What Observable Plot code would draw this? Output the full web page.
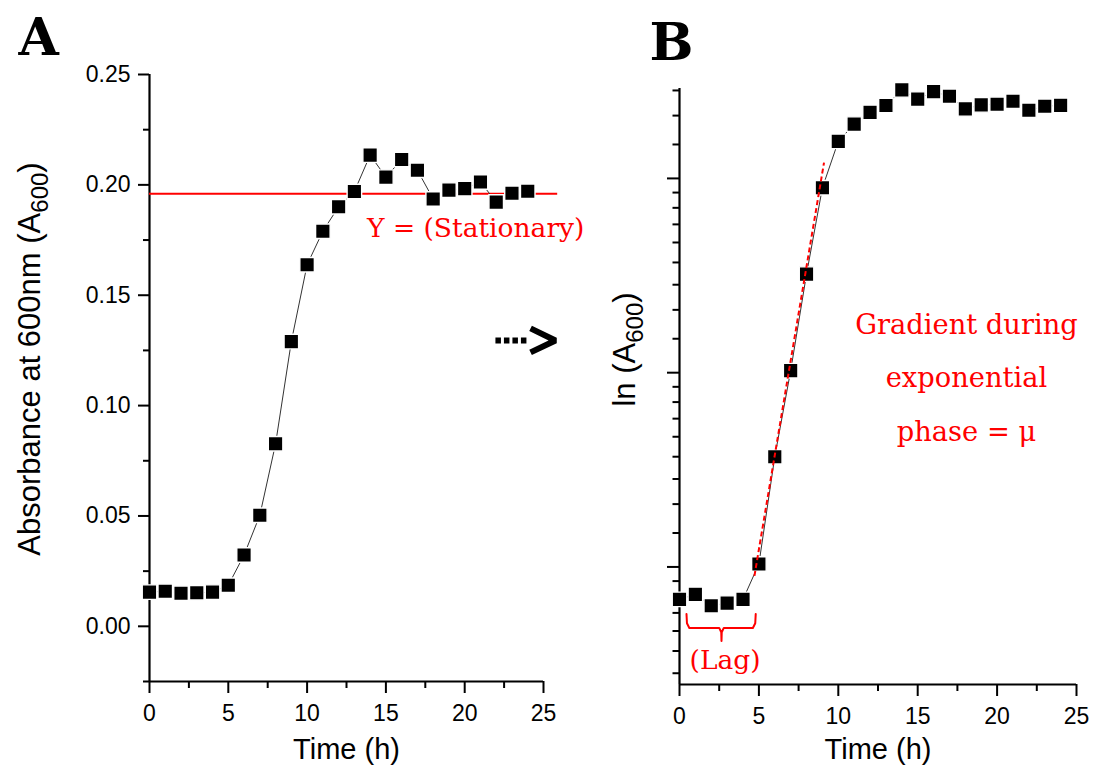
<!DOCTYPE html>
<html><head><meta charset="utf-8">
<script src="https://cdn.jsdelivr.net/npm/d3@7"></script>
<script src="https://cdn.jsdelivr.net/npm/@observablehq/plot@0.6"></script>
<style>
body{margin:0;background:#fff;}
#wrap{position:relative;width:1097px;height:776px;overflow:hidden;background:#fff;}
#wrap svg{position:absolute;top:0;overflow:visible;}
</style></head><body><div id="wrap"></div>
<script>
// ---- data ----
const hours = [0,1,2,3,4,5,6,7,8,9,10,11,12,13,14,15,16,17,18,19,20,21,22,23,24];
const absorbance = [0.0155,0.0159,0.0150,0.0152,0.0155,0.0186,0.0323,0.0503,0.0827,0.1290,0.1638,0.1790,0.1901,0.1970,0.2135,0.2035,0.2115,0.2066,0.1936,0.1976,0.1983,0.2013,0.1922,0.1962,0.1971];
const stationaryLevel = 0.196;
// ---- axes ----
const xTicks = [0,5,10,15,20,25];
const xMinorTicks = [2.5,7.5,12.5,17.5,22.5];
const yTicksA = [0,0.05,0.10,0.15,0.20,0.25];
const yMinorTicksA = [-0.025,0.025,0.075,0.125,0.175,0.225];
const yDomainA = [-0.025,0.25];
const lnMajorTicksB = [-5,-4,-3,-2,-1];
const minorPerCycle = 9;
const yDomainB = [0.01,0.215];
// ---- annotations ----
const fitLine = [{t:4.72, lnA:-4.046},{t:9.1, lnA:-1.919}];
const lagBrace = [{t:0.44,lnA:-4.242},{t:0.47,lnA:-4.290},{t:0.62,lnA:-4.314},{t:2.50,lnA:-4.314},{t:2.63,lnA:-4.336},{t:2.645,lnA:-4.381},{t:2.66,lnA:-4.336},{t:2.79,lnA:-4.314},{t:4.62,lnA:-4.314},{t:4.77,lnA:-4.290},{t:4.80,lnA:-4.242}];
const arrowShaft = [{t:21.95,a:0.1295},{t:24.05,a:0.1295}];
const arrowHead = [{t:24.18,a:0.1350},{t:25.76,a:0.1295},{t:24.18,a:0.1241}];
const stationaryLabel = {t:13.8, a:0.1800, text:"Y = (Stationary)"};
const gradientLabel = {t:18.07, lnA:-2.987, text:"Gradient during\nexponential\nphase = μ"};
const lagLabel = {t:2.87, lnA:-4.481, text:"(Lag)"};

const rows = hours.map((t,i)=>({t, a:absorbance[i], lnA:Math.log(absorbance[i])}));
const lnMinorB = [];
for (const n of lnMajorTicksB) for (let k=1;k<minorPerCycle;k++) lnMinorB.push(Math.log(Math.exp(n)+k*(Math.exp(n+1)-Math.exp(n))/minorPerCycle));
const lnDomB = yDomainB.map(Math.log);
const inB = v => v>=lnDomB[0]-1e-9 && v<=lnDomB[1]+1e-9;

const SANS = "Liberation Sans, Arial, sans-serif";
const SERIF = "DejaVu Serif, serif";
const RED = "#ff0000";
const tickFont = 23;
const titleFont = 31;

function xAxes(){
  return [
    Plot.axisX({ticks:xTicks, tickSize:12, tickPadding:11, strokeWidth:2, fontSize:tickFont, label:null, tickFormat:d=>String(d)}),
    Plot.axisX({ticks:xMinorTicks, tickSize:7, strokeWidth:2, tickFormat:()=>"", label:null})
  ];
}

const plotA = Plot.plot({
  width:600, height:776,
  marginLeft:149, marginRight:57, marginTop:74, marginBottom:95,
  x:{domain:[0,25]},
  y:{domain:yDomainA},
  style:{fontFamily:SANS, color:"#000", background:"transparent", overflow:"visible"},
  marks:[
    Plot.ruleX([0],{stroke:"#000", strokeWidth:2.2}),
    Plot.ruleY([yDomainA[0]],{stroke:"#000", strokeWidth:2.2}),
    Plot.axisY({ticks:yTicksA, tickSize:11, tickPadding:8, strokeWidth:2, fontSize:tickFont, label:null, tickFormat:d3.format(".2f")}),
    Plot.axisY({ticks:yMinorTicksA, tickSize:6, strokeWidth:2, tickFormat:()=>"", label:null}),
    ...xAxes(),
    Plot.ruleY([stationaryLevel],{x1:0, x2:25.9, stroke:RED, strokeWidth:2}),
    Plot.line(rows,{x:"t", y:"a", stroke:"#333", strokeWidth:1}),
    Plot.dot(rows,{x:"t", y:"a", symbol:"square", r:8.2, fill:"#000", stroke:"#fff", strokeWidth:1.4}),
    Plot.text([stationaryLabel],{x:"t", y:"a", text:"text", textAnchor:"start", fill:RED, fontFamily:SERIF, fontSize:26.5}),
    Plot.line(arrowShaft,{x:"t", y:"a", stroke:"#000", strokeWidth:6, strokeDasharray:"5.5,3", strokeLinecap:"butt"}),
    Plot.line(arrowHead,{x:"t", y:"a", stroke:"#000", strokeWidth:6, strokeLinejoin:"miter", strokeLinecap:"butt"}),
    Plot.text(["Absorbance at 600nm (A600)"],{frameAnchor:"left", rotate:-90, dx:-119, dy:-19, fontSize:titleFont, textAnchor:"middle"}),
    Plot.text(["Time (h)"],{frameAnchor:"bottom", dy:77, fontSize:29}),
    Plot.text(["A"],{frameAnchor:"top-left", dx:-131, dy:-56, fontSize:52, fontWeight:"bold", fontFamily:SERIF, textAnchor:"start", lineAnchor:"top"})
  ]
});

const plotB = Plot.plot({
  width:537, height:776,
  marginLeft:119, marginRight:21, marginTop:88, marginBottom:92,
  x:{domain:[0,25]},
  y:{domain:lnDomB},
  style:{fontFamily:SANS, color:"#000", background:"transparent", overflow:"visible"},
  marks:[
    Plot.ruleX([0],{stroke:"#000", strokeWidth:2.2}),
    Plot.ruleY([lnDomB[0]],{stroke:"#000", strokeWidth:2.2}),
    Plot.axisY({ticks:lnMajorTicksB.filter(inB), tickSize:12, strokeWidth:2, tickFormat:()=>"", label:null}),
    Plot.axisY({ticks:lnMinorB.filter(inB), tickSize:6.5, strokeWidth:2, tickFormat:()=>"", label:null}),
    ...xAxes(),
    Plot.line(rows,{x:"t", y:"lnA", stroke:"#333", strokeWidth:1}),
    Plot.dot(rows,{x:"t", y:"lnA", symbol:"square", r:8.2, fill:"#000", stroke:"#fff", strokeWidth:1.4}),
    Plot.line(fitLine,{x:"t", y:"lnA", stroke:RED, strokeWidth:2, strokeDasharray:"5,3", strokeLinecap:"butt"}),
    Plot.line(lagBrace,{x:"t", y:"lnA", stroke:RED, strokeWidth:2, strokeLinejoin:"round"}),
    Plot.text([gradientLabel],{x:"t", y:"lnA", text:"text", fill:RED, fontFamily:SERIF, fontSize:27.3, lineHeight:1.97}),
    Plot.text([lagLabel],{x:"t", y:"lnA", text:"text", fill:RED, fontFamily:SERIF, fontSize:26.5}),
    Plot.text(["ln (A600)"],{frameAnchor:"left", rotate:-90, dx:-54, dy:-37, fontSize:titleFont, textAnchor:"middle"}),
    Plot.text(["Time (h)"],{frameAnchor:"bottom", dy:74, fontSize:29}),
    Plot.text(["B"],{frameAnchor:"top-left", dx:-30, dy:-65, fontSize:52, fontWeight:"bold", fontFamily:SERIF, textAnchor:"start", lineAnchor:"top"})
  ]
});

plotA.style.left = "0px";
plotB.style.left = "560px";
const wrap = document.getElementById("wrap");
wrap.appendChild(plotA);
wrap.appendChild(plotB);

// subscripts for A600
const NS = "http://www.w3.org/2000/svg";
function subscriptify(svg, full, before, sub, after, size){
  svg.querySelectorAll("text").forEach(el=>{
    if (el.textContent === full){
      while (el.firstChild) el.removeChild(el.firstChild);
      const t1 = document.createElementNS(NS,"tspan"); t1.textContent = before;
      const t2 = document.createElementNS(NS,"tspan"); t2.textContent = sub;
      t2.setAttribute("font-size", Math.round(size*0.78)); t2.setAttribute("dy", Math.round(size*0.25));
      const t3 = document.createElementNS(NS,"tspan"); t3.textContent = after;
      t3.setAttribute("dy", -Math.round(size*0.25));
      el.append(t1,t2,t3);
    }
  });
}
subscriptify(plotA, "Absorbance at 600nm (A600)", "Absorbance at 600nm (A", "600", ")", titleFont);
subscriptify(plotB, "ln (A600)", "ln (A", "600", ")", titleFont);
</script></body></html>
